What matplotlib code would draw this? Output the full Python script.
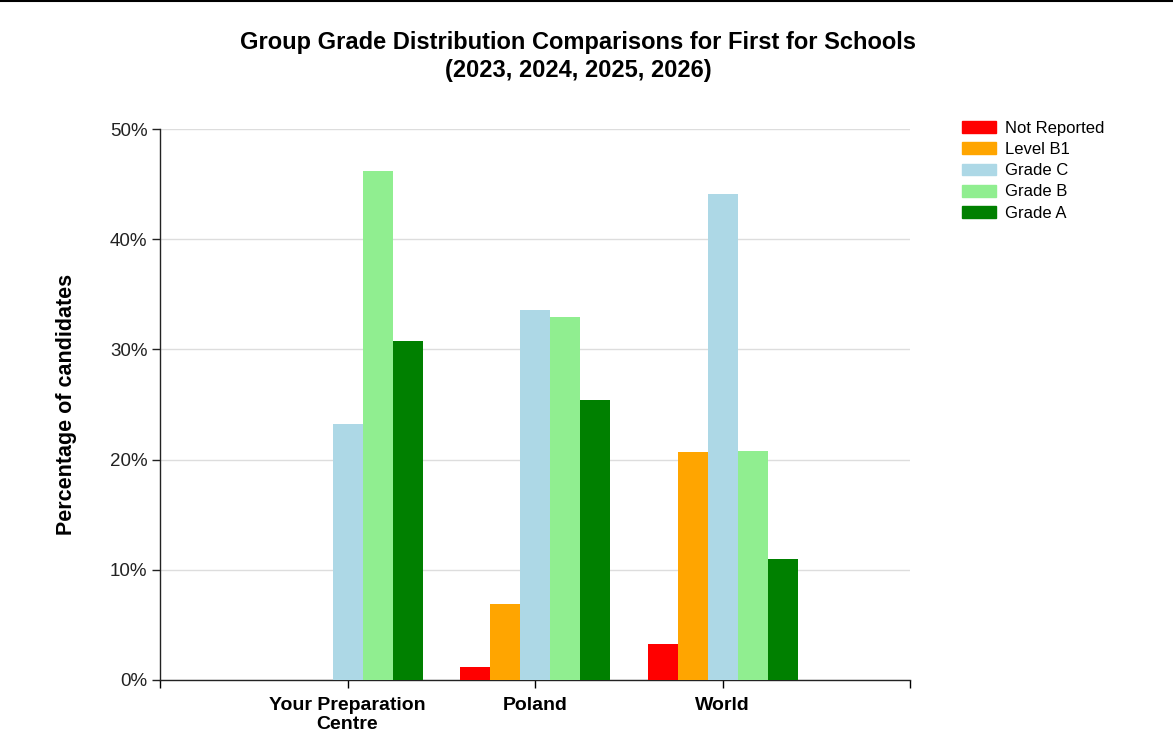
import numpy as np
import matplotlib
matplotlib.use("Agg")
import matplotlib.pyplot as plt
from matplotlib.patches import Patch
from matplotlib.ticker import FuncFormatter

plt.rcParams['font.family'] = ['Liberation Sans', 'DejaVu Sans']

# data (percent of candidates)
groups = ["Your Preparation\nCentre", "Poland", "World"]
series = ["Not Reported", "Level B1", "Grade C", "Grade B", "Grade A"]
colors = ["#ff0000", "#ffa500", "#add8e6", "#90ee90", "#008000"]
not_reported = [0.0, 1.2, 3.3]
level_b1 = [0.0, 6.9, 20.7]
grade_c = [23.2, 33.6, 44.1]
grade_b = [46.2, 32.9, 20.8]
grade_a = [30.8, 25.4, 11.0]
values = [not_reported, level_b1, grade_c, grade_b, grade_a]

fig = plt.figure(figsize=(11.73, 7.51), dpi=100)
ax = fig.add_axes([160 / 1173, 1 - 680 / 751, 750 / 1173, 551 / 751])

x = np.arange(1, len(groups) + 1)
w = 0.16
for i, (vals, col) in enumerate(zip(values, colors)):
    ax.bar(x + (i - 2) * w, vals, width=w, color=col, edgecolor=col,
           linewidth=0, zorder=3)

ax.set_xlim(0, 4)
ax.set_ylim(0, 50)
ax.set_yticks([0, 10, 20, 30, 40, 50])
ax.yaxis.set_major_formatter(FuncFormatter(lambda v, p: f"{v:.0f}%"))
ax.grid(axis='y', color='#dddddd', linewidth=1, zorder=0)
ax.tick_params(axis='y', length=6, width=1, labelsize=13.5, pad=3, colors='#222222')
ax.set_xticks(x)
ax.set_xticklabels(groups, fontweight='bold', fontsize=14, linespacing=1.2)
ax.set_xticks([0, 4], minor=True)
ax.tick_params(axis='x', which='both', length=6, width=1, pad=6)

for s in ['top', 'right']:
    ax.spines[s].set_visible(False)
for s in ['left', 'bottom']:
    ax.spines[s].set_linewidth(1)
    ax.spines[s].set_color('#222222')

ax.set_ylabel("Percentage of candidates", fontweight='bold', fontsize=15.5, labelpad=24)

fig.text(578 / 1173, 1 - 42 / 751, "Group Grade Distribution Comparisons for First for Schools",
         ha='center', va='center', fontsize=17, fontweight='bold')
fig.text(578 / 1173, 1 - 70 / 751, "(2023, 2024, 2025, 2026)",
         ha='center', va='center', fontsize=17, fontweight='bold')

handles = [Patch(facecolor=c, edgecolor=c) for c in colors]
fig.legend(handles, series, loc='upper left',
           bbox_to_anchor=(962 / 1173, 1 - 121 / 751), frameon=False,
           fontsize=12, handlelength=2.05, handleheight=0.72, labelspacing=0.37,
           handletextpad=0.5, borderpad=0, borderaxespad=0)

# thin black border line along the top of the image
fig.add_artist(plt.Line2D([0, 1], [0.999, 0.999], color='black', linewidth=1.5,
                          transform=fig.transFigure))

fig.savefig("out.png", dpi=100, facecolor='white')
